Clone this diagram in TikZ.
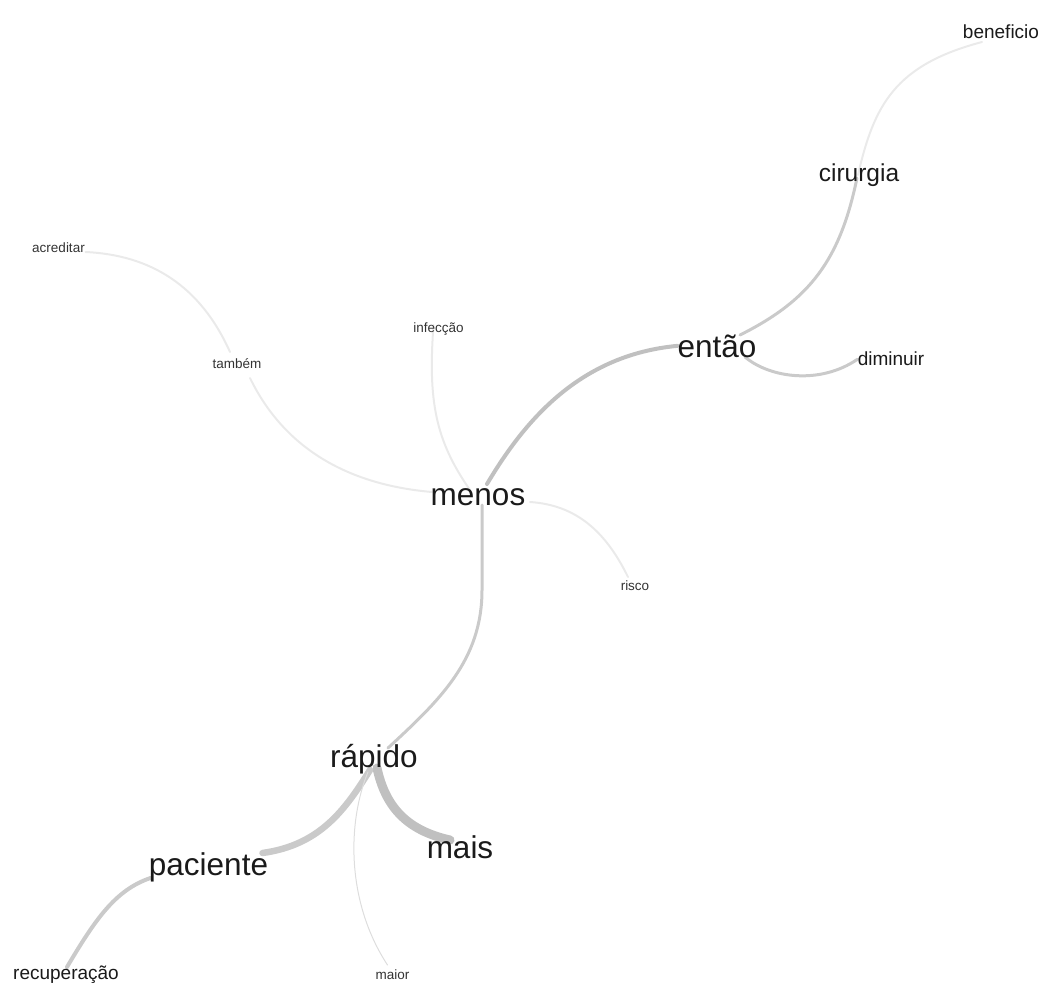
\documentclass[tikz,border=0pt]{standalone}
\usepackage{fontspec}
\setmainfont{Liberation Sans}
\pgfdeclarelayer{bg}
\pgfsetlayers{bg,main}
\definecolor{txtdark}{HTML}{1A1A1A}
\definecolor{txtsmall}{HTML}{333333}
\definecolor{edgeA}{HTML}{C0C0C0}
\definecolor{edgeB}{HTML}{CACACA}
\definecolor{edgeC}{HTML}{DDDDDD}
\definecolor{edgeD}{HTML}{EAEAEA}
\tikzset{
  word/.style={anchor=base, inner sep=0pt, text=txtdark},
  bigword/.style={word, font=\fontsize{31.5}{32}\selectfont},
  midword/.style={word, font=\fontsize{24.5}{25}\selectfont},
  smallword/.style={word, font=\fontsize{19}{20}\selectfont},
  tinyword/.style={word, text=txtsmall, font=\fontsize{13.5}{14}\selectfont},
  link/.style={line cap=round, draw=edgeB, line width=3pt},
}
\begin{document}
\begin{tikzpicture}[x=1pt,y=-1pt]
\useasboundingbox (0,0) rectangle (1047,984);
% nodes
\node[bigword] (menos) at (478,505) {menos};
\node[bigword] (entao) at (717,357) {então};
\node[bigword] (rapido) at (374,767) {rápido};
\node[bigword] (mais) at (460,858) {mais};
\node[bigword] (paciente) at (208.5,875) {paciente};
\node[midword] (cirurgia) at (859,182) {cirurgia};
\node[smallword] (beneficio) at (1001,39) {beneficio};
\node[smallword] (diminuir) at (891,366) {diminuir};
\node[smallword] (recuperacao) at (66,979) {recuperação};
\node[tinyword] (acreditar) at (58.5,253) {acreditar};
\node[tinyword] (tambem) at (237,368) {também};
\node[tinyword] (infeccao) at (438.5,333) {infecção};
\node[tinyword] (risco) at (635,590) {risco};
\node[tinyword] (maior) at (392.5,979) {maior};
% connectors
\begin{pgfonlayer}{bg}
\draw[link, draw=edgeA, line width=4pt] ([shift={(9,-21)}]menos.base) .. controls (525,420) and (580,355) .. (entao.west);
\draw[link] ([shift={(23,-22)}]entao.base) .. controls (810,300) and (840,260) .. ([shift={(-2,-4)}]cirurgia.base);
\draw[link, draw=edgeD, line width=2pt] ([shift={(-1,-7)}]cirurgia.base) .. controls (874,105) and (895,65) .. ([shift={(-19,3)}]beneficio.base);
\draw[link] ([shift={(28,0)}]entao.base) .. controls (770,378) and (820,385) .. (diminuir.west);
\draw[link, draw=edgeD, line width=2pt] ([shift={(-5,-8)}]infeccao.base) .. controls (428,400) and (435,440) .. ([shift={(-8,-15)}]menos.base);
\draw[link, draw=edgeD, line width=2pt] ([shift={(13,10)}]tambem.base) .. controls (285,450) and (350,485) .. ([shift={(-46,-13)}]menos.base);
\draw[link, draw=edgeD, line width=2pt] ([shift={(27,-1)}]acreditar.base) .. controls (150,255) and (200,285) .. ([shift={(-7,-16)}]tambem.base);
\draw[link, draw=edgeD, line width=2pt] ([shift={(52,-3)}]menos.base) .. controls (575,505) and (605,530) .. ([shift={(-7,-13)}]risco.base);
\draw[link] ([shift={(4,0)}]menos.base) -- (482,590) .. controls (482,660) and (440,700) .. ([shift={(14,-19)}]rapido.base);
\draw[link, draw=edgeA, line width=9pt] ([shift={(3,1)}]rapido.base) .. controls (385,805) and (405,830) .. ([shift={(-10,-18)}]mais.base);
\draw[link, draw=edgeB, line width=6.5pt] ([shift={(-4,3)}]rapido.base) .. controls (345,810) and (320,845) .. ([shift={(54,-22)}]paciente.base);
\draw[link, draw=edgeC, line width=1pt] ([shift={(-6,5)}]rapido.base) .. controls (348,820) and (345,900) .. ([shift={(-5,-14)}]maior.base);
\draw[link, line width=4pt] ([shift={(-58,3)}]paciente.base) .. controls (115,890) and (95,920) .. ([shift={(1,-12)}]recuperacao.base);
\end{pgfonlayer}
\end{tikzpicture}
\end{document}
